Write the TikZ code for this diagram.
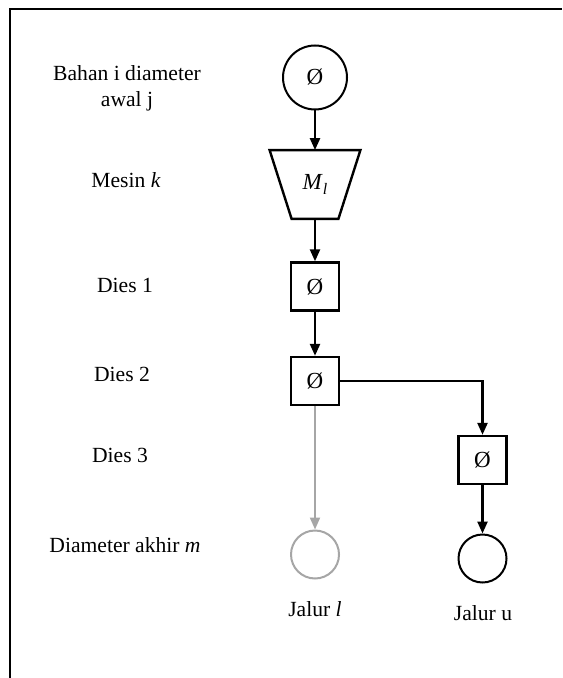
\documentclass[tikz,border=0pt]{standalone}
\usepackage{fontspec}
\setmainfont{Liberation Serif}
\usetikzlibrary{arrows.meta,calc}
\definecolor{lightpath}{HTML}{A6A6A6}
\tikzset{
  lbl/.style={font=\fontsize{10.8}{13}\selectfont, align=center, inner sep=0pt},
  diebox/.style={draw, line width=1.2pt, minimum size=24pt, inner sep=0pt, font=\fontsize{11.5}{13}\selectfont},
  startcirc/.style={draw, circle, line width=1pt, minimum size=32pt, inner sep=0pt, font=\fontsize{11.5}{13}\selectfont},
  endcirc/.style={draw, circle, line width=1pt, minimum size=24pt, inner sep=0pt},
  flow/.style={line width=1.2pt, -{Triangle[length=6pt,width=5pt]}},
  flowgray/.style={line width=1pt, draw=lightpath, -{Triangle[length=6pt,width=5pt]}, lightpath},
}
\begin{document}
\begin{tikzpicture}[x=0.5pt,y=-0.5pt]
\useasboundingbox (0,0) rectangle (562,678);
% partial frame: top and left edges only
\draw[line width=1pt] (10,678) -- (10,9.5) -- (562,9.5);

% row labels
\node[lbl] (l1) at (127,88) {Bahan i diameter\\awal j};
\node[lbl] (l2) at (126,180) {Mesin \textit{k}};
\node[lbl] (l3) at (125,285) {Dies 1};
\node[lbl] (l4) at (122,374) {Dies 2};
\node[lbl] (l5) at (120,455) {Dies 3};
\node[lbl] (l6) at (125,545) {Diameter akhir \textit{m}};

% start material
\node[startcirc] (bahan) at (315,77.5) {Ø};

% machine (trapezoid drawn on the anchors of an invisible frame node)
\node[minimum width=45pt, minimum height=34pt, inner sep=0pt,
      font=\fontsize{11.5}{13}\selectfont] (mesin) at (315,184.5) {\textit{M}\raisebox{-0.4ex}{\fontsize{8}{9}\selectfont\textit{l}}};
\draw[line width=1.2pt, line join=miter]
  (mesin.north west) -- (mesin.north east)
  -- ($(mesin.south east)+(-11pt,0)$) -- ($(mesin.south west)+(11pt,0)$) -- cycle;

% dies
\node[diebox] (d1) at (315,286.5) {Ø};
\node[diebox] (d2) at (315,381) {Ø};
\node[diebox] (d3) at (482.5,460) {Ø};

% outputs
\node[endcirc, draw=lightpath] (ol) at (315,554.5) {};
\node[endcirc] (ou) at (482.5,558.5) {};
\node[lbl] (jl) at (315,609) {Jalur \textit{l}};
\node[lbl] (ju) at (483,613) {Jalur u};

% connectors
\draw[flow] (bahan.south) -- (mesin.north);
\draw[flow] (mesin.south) -- (d1.north);
\draw[flow] (d1.south) -- (d2.north);
\draw[flow] (d2.east) -| (d3.north);
\draw[flow] (d3.south) -- (ou.north);
\draw[flowgray] (d2.south) -- (ol.north);
\end{tikzpicture}
\end{document}
